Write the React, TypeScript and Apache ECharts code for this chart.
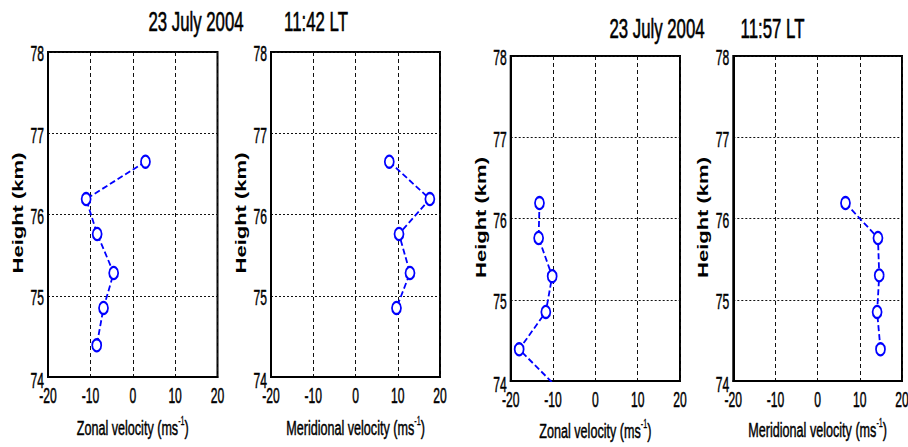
import React, { useEffect, useRef } from "react";
import * as echarts from "echarts";

// ---- data ----
const heights1142Zonal = [76.65, 76.19, 75.76, 75.28, 74.85, 74.39];
const zonal1142 = [3.0, -11.0, -8.4, -4.5, -6.9, -8.5];

const heights1142Merid = [76.65, 76.19, 75.76, 75.28, 74.85];
const merid1142 = [8.0, 17.6, 10.3, 12.9, 9.7];

const heights1157Zonal = [76.19, 75.76, 75.29, 74.85, 74.39, 73.94];
const zonal1157 = [-13.2, -13.4, -10.2, -11.7, -18.0, -9.4];

const heights1157Merid = [76.19, 75.76, 75.3, 74.85, 74.39];
const merid1157 = [6.6, 14.3, 14.6, 14.1, 14.9];

const xTickValues = [-20, -10, 0, 10, 20];
const yTickValues = [74, 75, 76, 77, 78];

const dateLabel = "23 July 2004";
const timeLabels = ["11:42 LT", "11:57 LT"];
const yAxisTitle = "Height (km)";
const zonalTitle = "Zonal velocity (ms";
const meridTitle = "Meridional velocity (ms";

// ---- layout ----
const PANEL_H = 325;
const panels = [
  { left: 48, top: 52, width: 169.5, xs: zonal1142, ys: heights1142Zonal, name: zonalTitle, yNameX: 18.3, yNameY: 213, xNameY: 428 },
  { left: 271, top: 52, width: 169, xs: merid1142, ys: heights1142Merid, name: meridTitle, yNameX: 241.3, yNameY: 213, xNameY: 428 },
  { left: 510.7, top: 56, width: 169.3, xs: zonal1157, ys: heights1157Zonal, name: zonalTitle, yNameX: 481.3, yNameY: 217.5, xNameY: 431 },
  { left: 733.3, top: 56, width: 168.7, xs: merid1157, ys: heights1157Merid, name: meridTitle, yNameX: 703.3, yNameY: 217.5, xNameY: 430 },
];

const titlePos = [
  { text: dateLabel, x: 196, y: 21 },
  { text: timeLabels[0], x: 316, y: 21 },
  { text: dateLabel, x: 657, y: 28 },
  { text: timeLabels[1], x: 772.5, y: 28 },
];

const BASE_FONT = '"Liberation Sans", Arial, sans-serif';

export default function App() {
  const ref = useRef<HTMLDivElement>(null);

  useEffect(() => {
    if (!ref.current) return;
    const chart = echarts.init(ref.current, undefined, { renderer: "svg" });

    const grids = panels.map((p) => ({
      left: p.left,
      top: p.top,
      width: p.width,
      height: PANEL_H,
      show: true,
      borderColor: "#000",
      borderWidth: 2,
      backgroundColor: "#fff",
      containLabel: false,
    }));

    const xAxes = panels.map((_, i) => ({
      type: "value",
      gridIndex: i,
      min: xTickValues[0],
      max: xTickValues[xTickValues.length - 1],
      interval: 10,
      axisLine: { show: true, onZero: false, lineStyle: { color: "#000", width: 2 } },
      axisTick: { show: false },
      axisLabel: { show: false },
      splitLine: { show: true, lineStyle: { color: "#111", width: 1, type: [4, 3] } },
    }));

    const yAxes = panels.map((_, i) => ({
      type: "value",
      gridIndex: i,
      min: yTickValues[0],
      max: yTickValues[yTickValues.length - 1],
      interval: 1,
      axisLine: { show: true, onZero: false, lineStyle: { color: "#000", width: 2 } },
      axisTick: { show: false },
      axisLabel: { show: false },
      splitLine: { show: true, lineStyle: { color: "#111", width: 1, type: [2, 2] } },
    }));

    const series = panels.map((p, i) => ({
      type: "line",
      xAxisIndex: i,
      yAxisIndex: i,
      data: p.xs.map((x, k) => [x, p.ys[k]]),
      clip: true,
      symbol: "emptyCircle",
      symbolSize: [9, 12],
      showAllSymbol: true,
      lineStyle: { color: "#0000ff", width: 1.8, type: [6, 3] },
      itemStyle: { color: "#0000ff", borderColor: "#0000ff", borderWidth: 1.8 },
      z: 3,
    }));

    chart.setOption({
      animation: false,
      backgroundColor: "#fff",
      grid: grids,
      xAxis: xAxes,
      yAxis: yAxes,
      series,
    });

    const graphic: any[] = [];
    titlePos.forEach((t) => {
      graphic.push({
        type: "text",
        x: t.x,
        y: t.y,
        scaleX: 0.6,
        style: {
          text: t.text,
          fontSize: 28,
          fontFamily: BASE_FONT,
          fill: "#000",
          stroke: "#000",
          lineWidth: 0.6,
          align: "center",
          verticalAlign: "middle",
        },
      });
    });

    // tick labels placed through the axes' own scales
    panels.forEach((p, i) => {
      const yMin = yTickValues[0];
      const xMin = xTickValues[0];
      xTickValues.forEach((v) => {
        const pt = chart.convertToPixel({ gridIndex: i }, [v, yMin]) as number[];
        graphic.push({
          type: "text",
          x: pt[0],
          y: pt[1] + 19,
          scaleX: 0.55,
          style: {
            text: String(v),
            fontSize: 22,
            fontFamily: BASE_FONT,
            fill: "#000",
            stroke: "#000",
            lineWidth: 0.5,
            align: "center",
            verticalAlign: "middle",
          },
        });
      });
      yTickValues.forEach((v) => {
        const pt = chart.convertToPixel({ gridIndex: i }, [xMin, v]) as number[];
        graphic.push({
          type: "text",
          x: pt[0] - 4,
          y: pt[1] + (v === yMin ? 4 : 2),
          scaleX: 0.55,
          style: {
            text: String(v),
            fontSize: 22,
            fontFamily: BASE_FONT,
            fill: "#000",
            stroke: "#000",
            lineWidth: 0.5,
            align: "right",
            verticalAlign: "middle",
          },
        });
      });

      graphic.push({
        type: "text",
        x: p.yNameX,
        y: p.yNameY,
        rotation: Math.PI / 2,
        scaleY: 0.63,
        style: {
          text: yAxisTitle,
          fontSize: 22,
          fontWeight: "bold",
          fontFamily: BASE_FONT,
          fill: "#000",
          align: "center",
          verticalAlign: "middle",
        },
      });
      graphic.push({
        type: "text",
        x: p.left + p.width / 2,
        y: p.xNameY,
        scaleX: 0.6,
        style: {
          text: "{a|" + p.name + "}{s|-1}{a|)}",
          fill: "#000",
          align: "center",
          verticalAlign: "middle",
          rich: {
            a: { fontSize: 21, fontFamily: BASE_FONT, lineHeight: 26, fill: "#000", stroke: "#000", lineWidth: 0.5 },
            s: { fontSize: 12, fontFamily: BASE_FONT, lineHeight: 12, verticalAlign: "top", fill: "#000", stroke: "#000", lineWidth: 0.3 },
          },
        },
      });
    });

    chart.setOption({ graphic });

    return () => {
      chart.dispose();
    };
  }, []);

  return (
    <div
      ref={ref}
      style={{ position: "fixed", left: 0, top: 0, width: 908, height: 447, background: "#fff" }}
    />
  );
}
